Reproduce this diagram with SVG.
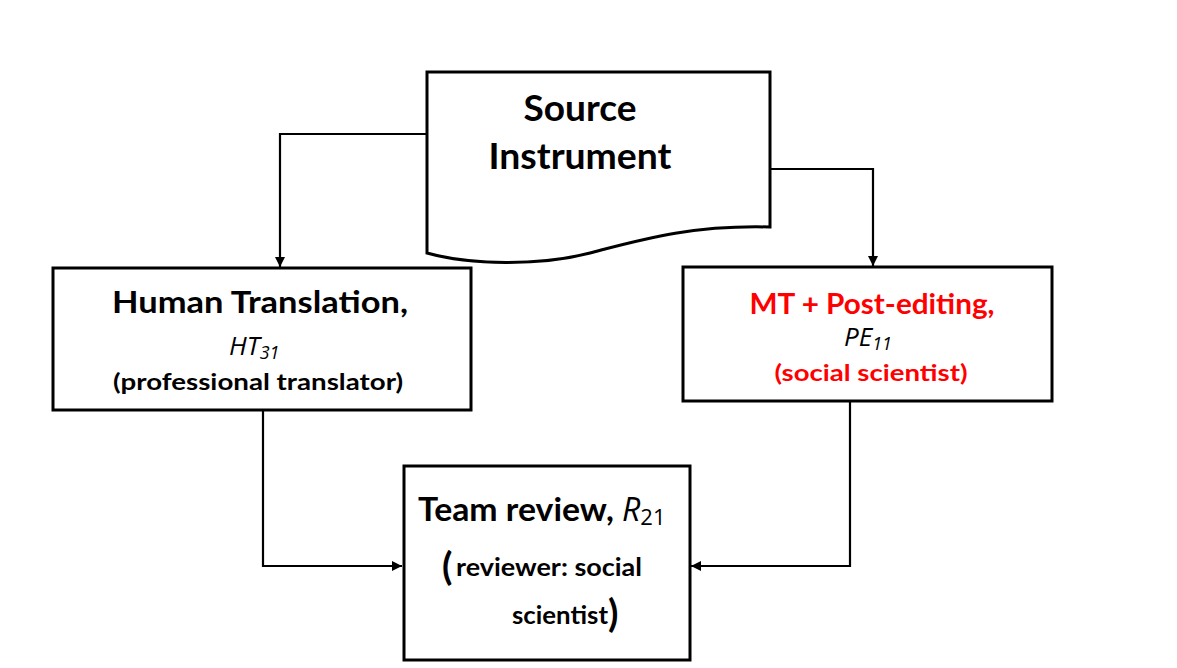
<svg xmlns="http://www.w3.org/2000/svg" width="1177" height="668" viewBox="0 0 1177 668">
<style>
.box{fill:#fff;stroke:#000;stroke-width:3}
.conn{fill:none;stroke:#000;stroke-width:2.2}
.b{font-family:Lato,"Open Sans",sans-serif;font-weight:bold;fill:#000}
.i{font-family:"Open Sans",Lato,sans-serif;font-style:italic;fill:#000;font-weight:normal}
.red{fill:#ff0000}
</style>
<defs>
<marker id="ah" viewBox="0 0 10 10" refX="10" refY="5" markerWidth="10" markerHeight="10" markerUnits="userSpaceOnUse" orient="auto">
<path d="M0,0 L10,5 L0,10 Z" fill="#000"/>
</marker>
</defs>
<rect width="1177" height="668" fill="#fff"/>
<g id="connectors">
<path class="conn" d="M427,134 H280 V267" marker-end="url(#ah)"/>
<path class="conn" d="M770,169 H873 V266" marker-end="url(#ah)"/>
<path class="conn" d="M263,410 V566 H402" marker-end="url(#ah)"/>
<path class="conn" d="M850,401 V566 H691" marker-end="url(#ah)"/>
</g>
<g id="source">
<path class="box" d="M427,72 H770 V227 C690,225 640,240 590,253 C540,266 470,265 427,253 Z"/>
<text class="b" x="580" y="121" font-size="36" text-anchor="middle" textLength="113" lengthAdjust="spacingAndGlyphs">Source</text>
<text class="b" x="580" y="169" font-size="36" text-anchor="middle" textLength="183" lengthAdjust="spacingAndGlyphs">Instrument</text>
</g>
<g id="ht">
<rect class="box" x="53" y="268" width="418" height="142"/>
<text class="b" x="260" y="313" font-size="30" text-anchor="middle" textLength="296" lengthAdjust="spacingAndGlyphs">Human Translation,</text>
<text class="i" x="229" y="355" font-size="26">HT<tspan font-size="18" dy="4">31</tspan></text>
<text class="b" x="258" y="390" font-size="23" text-anchor="middle" textLength="290" lengthAdjust="spacingAndGlyphs">(professional translator)</text>
</g>
<g id="mt">
<rect class="box" x="683" y="267" width="369" height="134"/>
<text class="b red" x="872" y="314" font-size="28" text-anchor="middle" textLength="245" lengthAdjust="spacingAndGlyphs">MT + Post-editing,</text>
<text class="i" x="844" y="346" font-size="26">PE<tspan font-size="18" dy="4">11</tspan></text>
<text class="b red" x="871" y="381" font-size="23" text-anchor="middle" textLength="193" lengthAdjust="spacingAndGlyphs">(social scientist)</text>
</g>
<g id="team">
<rect class="box" x="404" y="466" width="286" height="194"/>
<text class="b" x="418" y="521" font-size="32" textLength="196" lengthAdjust="spacingAndGlyphs">Team review,</text>
<text class="i" x="622" y="521" font-size="32">R<tspan font-style="normal" font-size="22" dy="4">21</tspan></text>
<text class="b" x="442" y="580" font-size="38" font-weight="normal">(</text>
<text class="b" x="456" y="576" font-size="25" textLength="186" lengthAdjust="spacingAndGlyphs">reviewer: social</text>
<text class="b" x="512" y="624" font-size="25" textLength="96" lengthAdjust="spacingAndGlyphs">scientist</text>
<text class="b" x="608" y="627" font-size="38" font-weight="normal">)</text>
</g>
</svg>
